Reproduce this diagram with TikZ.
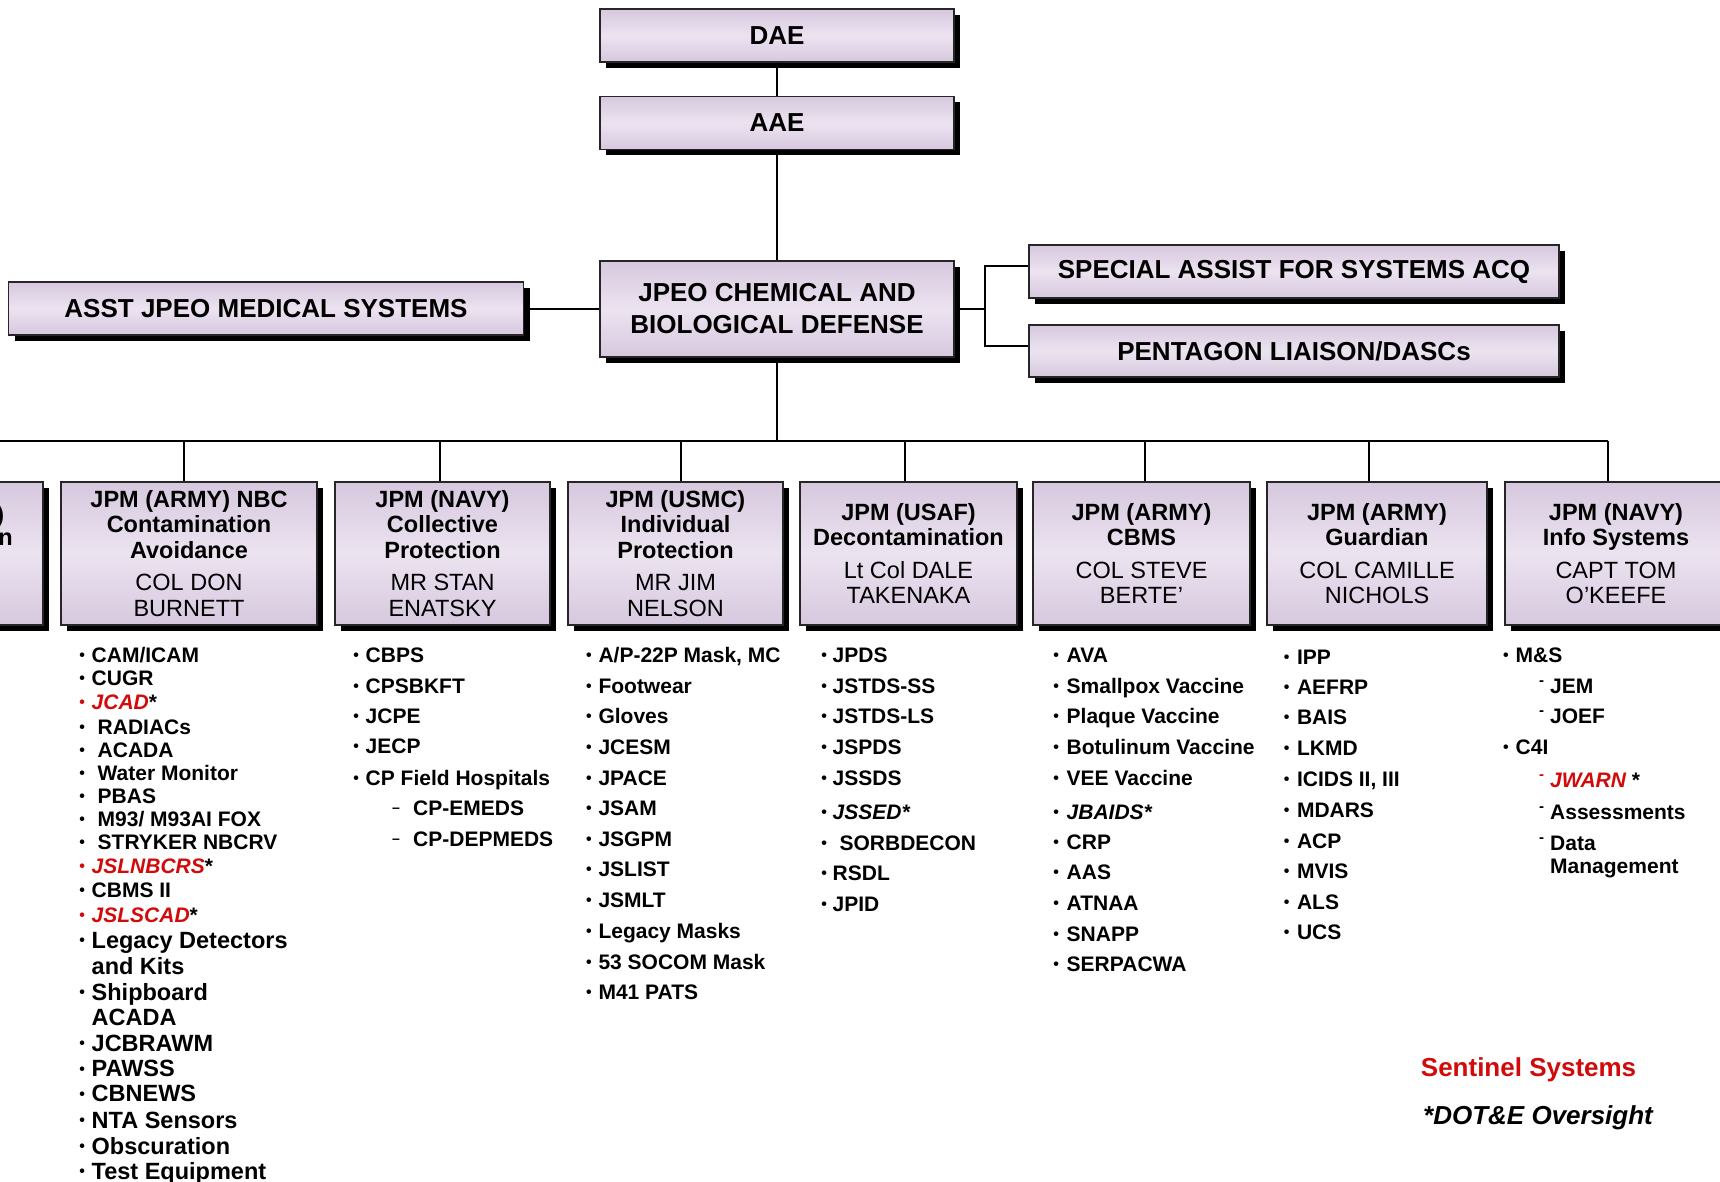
\documentclass[tikz,border=0pt]{standalone}
\usepackage{fontspec}
\setmainfont{Liberation Sans}
\usetikzlibrary{shadows}
\definecolor{lavA}{RGB}{236,227,240}
\definecolor{lavB}{RGB}{214,200,222}
\definecolor{redT}{RGB}{210,10,10}
% bullet item: [colour]{name}{pos}{indent}{text}
\newcommand\li[5][black]{\node[item] (#2) at (#3) {\makebox[#4pt][l]{\color{#1}\raisebox{1.6pt}{\fontsize{16}{16}\selectfont\textbullet}}#5};}
\newcommand\lib[5][black]{\node[item,font=\fontsize{23.5}{26}\selectfont\bfseries] (#2) at (#3) {\makebox[#4pt][l]{\color{#1}\raisebox{2.5pt}{\fontsize{16}{16}\selectfont\textbullet}}#5};}
% en-dash sub item
\newcommand\ld[4]{\node[item] (#1) at (#2) {\makebox[#3pt][l]{\raisebox{2.5pt}{\fontsize{14}{14}\selectfont\textendash}}#4};}
% raised hyphen sub item
\newcommand\lh[5][black]{\node[item] (#2) at (#3) {\makebox[#4pt][l]{\color{#1}\raisebox{8pt}{\fontsize{15}{15}\selectfont -}}#5};}
\tikzset{
  box/.style={draw=black!85, line width=1.4pt, top color=lavB, bottom color=lavB, middle color=lavA,
    inner sep=0pt, align=center, general shadow={fill=black, shadow xshift=6pt, shadow yshift=-6pt}},
  topf/.style={font=\fontsize{26}{32}\selectfont\bfseries},
  lowf/.style={font=\fontsize{23.5}{25.5}\selectfont},
  conn/.style={line width=2pt, draw=black},
  item/.style={anchor=base west, inner sep=0pt, font=\fontsize{21}{25}\selectfont\bfseries},
  plain/.style={anchor=base west, inner sep=0pt},
}
\begin{document}
\begin{tikzpicture}[x=1pt,y=-1pt]
\useasboundingbox (0,0) rectangle (1720,1182);
\clip (0,0) rectangle (1720,1182);
\fill[white] (0,0) rectangle (1720,1182);

% ---------- upper boxes ----------
\node[box, topf, minimum width=354pt, minimum height=53pt] (dae) at (777,35.5) {DAE};
\node[box, topf, minimum width=354pt, minimum height=53pt] (aae) at (777,123) {AAE};
\node[box, topf, minimum width=354pt, minimum height=96pt] (jpeo) at (777,309) {JPEO CHEMICAL AND\\BIOLOGICAL DEFENSE};
\node[box, topf, minimum width=515pt, minimum height=53pt] (asst) at (266,308.5) {ASST JPEO MEDICAL SYSTEMS};
\node[box, topf, minimum width=530pt, minimum height=53pt] (special) at (1294,271.5) {SPECIAL ASSIST FOR SYSTEMS ACQ};
\node[box, topf, minimum width=530pt, minimum height=52pt] (pent) at (1294,351) {PENTAGON LIAISON/DASCs};

% ---------- lower boxes ----------
\node[box, lowf, minimum width=243pt, minimum height=143pt] (b0) at (-78.5,553.5) {};
\node[anchor=base east, inner sep=0pt, lowf] (b0a) at (4.5,522) {\textbf{)}};
\node[anchor=base east, inner sep=0pt, lowf] (b0b) at (13,545) {\textbf{n}};
\node[box, lowf, minimum width=256pt, minimum height=143pt] (b1) at (189,553.5)
  {\textbf{JPM (ARMY) NBC}\\\textbf{Contamination}\\\textbf{Avoidance}\\[7pt]COL DON\\BURNETT};
\node[box, lowf, minimum width=215pt, minimum height=143pt] (b2) at (442.5,553.5)
  {\textbf{JPM (NAVY)}\\\textbf{Collective}\\\textbf{Protection}\\[7pt]MR STAN\\ENATSKY};
\node[box, lowf, minimum width=215pt, minimum height=143pt] (b3) at (675.5,553.5)
  {\textbf{JPM (USMC)}\\\textbf{Individual}\\\textbf{Protection}\\[7pt]MR JIM\\NELSON};
\node[box, lowf, minimum width=217pt, minimum height=143pt] (b4) at (908.5,553.5)
  {\textbf{JPM (USAF)}\\\textbf{Decontamination}\\[7pt]Lt Col DALE\\TAKENAKA};
\node[box, lowf, minimum width=217pt, minimum height=143pt] (b5) at (1141.5,553.5)
  {\textbf{JPM (ARMY)}\\\textbf{CBMS}\\[7pt]COL STEVE\\BERTE’};
\node[box, lowf, minimum width=220pt, minimum height=143pt] (b6) at (1377,553.5)
  {\textbf{JPM (ARMY)}\\\textbf{Guardian}\\[7pt]COL CAMILLE\\NICHOLS};
\node[box, lowf, minimum width=222pt, minimum height=143pt] (b7) at (1616,553.5)
  {\textbf{JPM (NAVY)}\\\textbf{Info Systems}\\[7pt]CAPT TOM\\O’KEEFE};

% ---------- connectors ----------
\draw[conn] (dae) -- (aae);
\draw[conn] (aae) -- (jpeo);
\draw[conn] (asst) -- (asst -| jpeo.west);
\coordinate (hub) at (985,309);
\draw[conn] (jpeo.east) -- (hub);
\draw[conn] ([yshift=6pt]special.west) -| (hub) |- ([yshift=5pt]pent.west);
\coordinate (busL) at (0,441);
\coordinate (busR) at (1608,441);
\draw[conn] (jpeo.south) -- (jpeo.south |- busL);
\draw[conn] (busL) -- (busR);
\coordinate (d1) at (184,441);
\coordinate (d2) at (440,441);
\coordinate (d3) at (681,441);
\coordinate (d4) at (905,441);
\coordinate (d5) at (1145,441);
\coordinate (d6) at (1369,441);
\coordinate (d7) at (1608,441);
\draw[conn] (d1) -- (d1 |- b1.north);
\draw[conn] (d2) -- (d2 |- b2.north);
\draw[conn] (d3) -- (d3 |- b3.north);
\draw[conn] (d4) -- (d4 |- b4.north);
\draw[conn] (d5) -- (d5 |- b5.north);
\draw[conn] (d6) -- (d6 |- b6.north);
\draw[conn] (d7) -- (d7 |- b7.north);

% ---------- column 1 ----------
\li{c1a}{79.2,662.5}{12.3}{CAM/ICAM}
\li{c1b}{79.2,685.5}{12.3}{CUGR}
\li[redT]{c1c}{79.2,709.5}{12.3}{\textcolor{redT}{\itshape JCAD}*}
\li{c1d}{79.2,734}{18.3}{RADIACs}
\li{c1e}{79.2,757}{18.3}{ACADA}
\li{c1f}{79.2,780}{18.3}{Water Monitor}
\li{c1g}{79.2,803}{18.3}{PBAS}
\li{c1h}{79.2,826}{18.3}{M93/ M93AI FOX}
\li{c1i}{79.2,849}{18.3}{STRYKER NBCRV}
\li[redT]{c1j}{79.2,873.5}{12.3}{\textcolor{redT}{\itshape JSLNBCRS}*}
\li{c1k}{79.2,897.5}{12.3}{CBMS II}
\li[redT]{c1l}{79.2,922.5}{12.3}{\textcolor{redT}{\itshape JSLSCAD}*}
\lib{c1m}{79.2,948.4}{12.3}{Legacy Detectors}
\node[plain, font=\fontsize{23.5}{26}\selectfont\bfseries] (c1m2) at (91.5,974.4) {and Kits};
\lib{c1n}{79.2,1000.4}{12.3}{Shipboard}
\node[plain, font=\fontsize{23.5}{26}\selectfont\bfseries] (c1n2) at (91.5,1025) {ACADA};
\lib{c1o}{79.2,1051}{12.3}{JCBRAWM}
\lib{c1p}{79.2,1076.5}{12.3}{PAWSS}
\lib{c1q}{79.2,1101.5}{12.3}{CBNEWS}
\lib{c1r}{79.2,1128}{12.3}{NTA Sensors}
\lib{c1s}{79.2,1154}{12.3}{Obscuration}
\lib{c1t}{79.2,1179}{12.3}{Test Equipment}

% ---------- column 2 ----------
\li{c2a}{353.2,662}{12.3}{CBPS}
\li{c2b}{353.2,693}{12.3}{CPSBKFT}
\li{c2c}{353.2,723}{12.3}{JCPE}
\li{c2d}{353.2,753.5}{12.3}{JECP}
\li{c2e}{353.2,785.5}{12.3}{CP Field Hospitals}
\ld{c2f}{392,815.3}{21}{CP-EMEDS}
\ld{c2g}{392,846}{21}{CP-DEPMEDS}

% ---------- column 3 ----------
\li{c3a}{586,662.5}{12.3}{A/P-22P Mask, MC}
\li{c3b}{586,693.5}{12.3}{Footwear}
\li{c3c}{586,723.5}{12.3}{Gloves}
\li{c3d}{586,754}{12.3}{JCESM}
\li{c3e}{586,785}{12.3}{JPACE}
\li{c3f}{586,815.5}{12.3}{JSAM}
\li{c3g}{586,846.5}{12.3}{JSGPM}
\li{c3h}{586,876.5}{12.3}{JSLIST}
\li{c3i}{586,907.5}{12.3}{JSMLT}
\li{c3j}{586,938.5}{12.3}{Legacy Masks}
\li{c3k}{586,969}{12.3}{53 SOCOM Mask}
\li{c3l}{586,999}{12.3}{M41 PATS}

% ---------- column 4 ----------
\li{c4a}{821.2,662.5}{11.3}{JPDS}
\li{c4b}{821.2,693.5}{11.3}{JSTDS-SS}
\li{c4c}{821.2,723.5}{11.3}{JSTDS-LS}
\li{c4d}{821.2,754}{11.3}{JSPDS}
\li{c4e}{821.2,785}{11.3}{JSSDS}
\li{c4f}{821.2,819}{11.3}{{\itshape JSSED*}}
\li{c4g}{821.2,850}{18.2}{SORBDECON}
\li{c4h}{821.2,880.5}{11.3}{RSDL}
\li{c4i}{821.2,911.5}{11.3}{JPID}

% ---------- column 5 ----------
\li{c5a}{1053.2,662.5}{13.3}{AVA}
\li{c5b}{1053.2,693.5}{13.3}{Smallpox Vaccine}
\li{c5c}{1053.2,723.5}{13.3}{Plaque Vaccine}
\li{c5d}{1053.2,754}{13.3}{Botulinum Vaccine}
\li{c5e}{1053.2,785}{13.3}{VEE Vaccine}
\li{c5f}{1053.2,819}{13.3}{{\itshape JBAIDS*}}
\li{c5g}{1053.2,849}{13.3}{CRP}
\li{c5h}{1053.2,879.5}{13.3}{AAS}
\li{c5i}{1053.2,910.5}{13.3}{ATNAA}
\li{c5j}{1053.2,941.5}{13.3}{SNAPP}
\li{c5k}{1053.2,971.5}{13.3}{SERPACWA}

% ---------- column 6 ----------
\li{c6a}{1283.7,664}{13.1}{IPP}
\li{c6b}{1283.7,694}{13.1}{AEFRP}
\li{c6c}{1283.7,724.5}{13.1}{BAIS}
\li{c6d}{1283.7,755.5}{13.1}{LKMD}
\li{c6e}{1283.7,786.5}{13.1}{ICIDS II, III}
\li{c6f}{1283.7,817.5}{13.1}{MDARS}
\li{c6g}{1283.7,848}{13.1}{ACP}
\li{c6h}{1283.7,878}{13.1}{MVIS}
\li{c6i}{1283.7,909}{13.1}{ALS}
\li{c6j}{1283.7,939.5}{13.1}{UCS}

% ---------- column 7 ----------
\li{c7a}{1502.9,662.5}{12.6}{M\&S}
\lh{c7b}{1539,693.5}{11}{JEM}
\lh{c7c}{1539,723.5}{11}{JOEF}
\li{c7d}{1502.9,754}{12.6}{C4I}
\lh[redT]{c7e}{1539,787.5}{11}{\textcolor{redT}{\itshape JWARN} *}
\lh{c7f}{1539,819}{11}{Assessments}
\lh{c7g}{1539,850}{11}{Data}
\node[item] (c7g2) at (1550,873) {Management};

% ---------- legend ----------
\node[plain, font=\fontsize{26}{30}\selectfont\bfseries, text=redT] (sentinel) at (1420.7,1076.7) {Sentinel Systems};
\node[plain, font=\fontsize{26}{30}\selectfont\bfseries\itshape] (dote) at (1423,1124) {*DOT\&E Oversight};
\end{tikzpicture}
\end{document}
